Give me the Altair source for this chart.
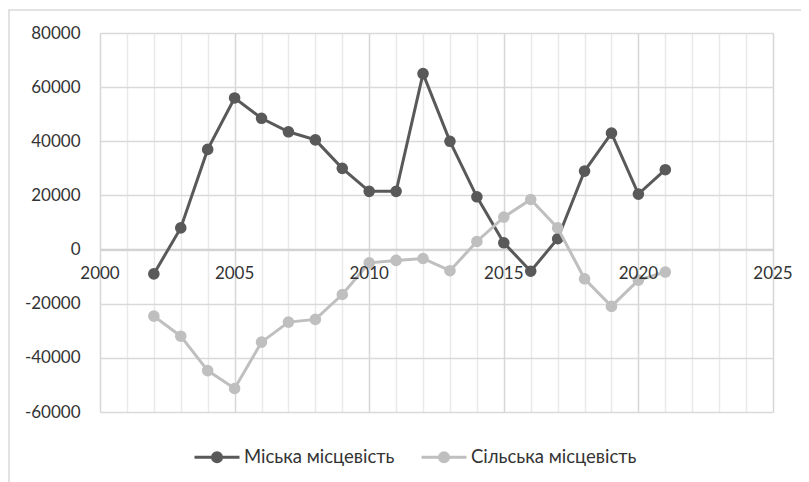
import altair as alt
import pandas as pd

years = list(range(2002, 2022))
urban = [-9000, 8000, 37000, 56000, 48500, 43500, 40500, 30000, 21500, 21500,
         65000, 40000, 19500, 2500, -8000, 4000, 29000, 43000, 20500, 29500]
rural = [-24600, -32000, -44700, -51300, -34200, -26800, -25800, -16600, -4900, -4000,
         -3300, -7800, 3000, 12000, 18500, 8000, -10800, -21000, -11300, -8300]
series = ["Міська місцевість", "Сільська місцевість"]
colors = ["#595959", "#bfbfbf"]
x_ticks = [2000, 2005, 2010, 2015, 2020, 2025]
y_ticks = [-60000, -40000, -20000, 0, 20000, 40000, 60000, 80000]
grid_years = list(range(2000, 2026))

rows = []
for y, u, r in zip(years, urban, rural):
    rows.append({"year": y, "value": u, "series": series[0]})
    rows.append({"year": y, "value": r, "series": series[1]})
df = pd.DataFrame(rows)

FONT = "Lato"
W, H = 673, 379

xscale = alt.Scale(domain=[2000, 2025], nice=False, zero=False)
yscale = alt.Scale(domain=[-60000, 80000], nice=False)

x_axis = alt.Axis(
    values=grid_years, labels=False, ticks=False, domain=False, title=None,
    grid=True, gridWidth=1.5,
    gridColor={"condition": {"test": "datum.value % 5 === 0", "value": "#d6d6d6"}, "value": "#e9e9e9"},
)
y_axis = alt.Axis(
    values=y_ticks, ticks=False, domain=False, title=None, grid=True,
    gridColor="#d9d9d9", gridWidth=1.5, labelExpr="'' + datum.value",
    labelFont=FONT, labelFontSize=17, labelColor="#333333", labelPadding=20,
)


def X(field="year"):
    return alt.X(f"{field}:Q", scale=xscale, axis=x_axis)


def Y(field="value"):
    return alt.Y(f"{field}:Q", scale=yscale, axis=y_axis)


color = alt.Color(
    "series:N",
    scale=alt.Scale(domain=series, range=colors),
    legend=alt.Legend(
        title=None, orient="none", legendX=93, legendY=400, direction="horizontal",
        symbolType="M-1,0L-0.2,0M0.2,0L1,0M-0.2,0A0.2,0.2,0,1,0,0.2,0A0.2,0.2,0,1,0,-0.2,0Z",
        symbolSize=2025, symbolStrokeWidth=3, labelFont=FONT, labelFontSize=18.5,
        labelColor="#333333", labelOffset=3, columnPadding=20, labelLimit=400,
    ),
)

base = alt.Chart(df).encode(
    x=X(), y=Y(), color=color, detail="series:N", order=alt.Order("year:Q"),
)

frame = alt.Chart(pd.DataFrame({"a": [0]})).mark_rect(
    fill=None, stroke="#d9d9d9", strokeWidth=1.5
).encode(x=alt.value(-91), x2=alt.value(760), y=alt.value(-23), y2=alt.value(480))

zero = alt.Chart(pd.DataFrame({"value": [0]})).mark_rule(
    color="#d0d0d0", strokeWidth=1.5
).encode(y=Y())

lines = []
points = []
for s in series:
    sub = base.transform_filter(alt.datum.series == s)
    lines.append(sub.mark_line(strokeWidth=3))
    points.append(sub.mark_point(filled=True, size=135, opacity=1))

labels_df = pd.DataFrame({"year": x_ticks, "value": [0] * len(x_ticks)})
xlabels = alt.Chart(labels_df).mark_text(
    font=FONT, fontSize=17, color="#333333", dy=24
).encode(
    x=X(), y=Y(), text=alt.Text("year:Q", format="d"),
)

chart = alt.layer(
    frame, zero, lines[0], points[0], lines[1], points[1], xlabels
).properties(
    width=W, height=H,
    padding={"left": 92, "top": 25, "right": 28, "bottom": 70},
    autosize=alt.AutoSizeParams(type="none"),
).configure_view(strokeWidth=0)

chart.save("out.html", embed_options={"renderer": "svg", "actions": False})
